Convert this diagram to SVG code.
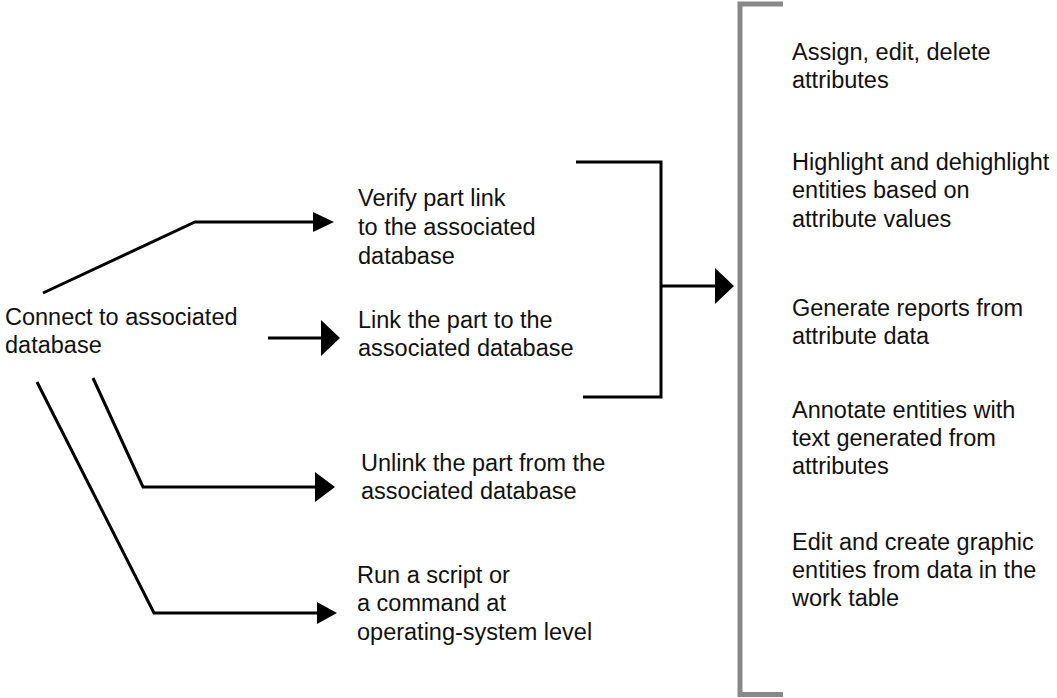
<svg xmlns="http://www.w3.org/2000/svg" width="1057" height="698" viewBox="0 0 1057 698">
  <style>
    text { font-family: "Liberation Sans", Arial, sans-serif; font-size: 23.5px; fill: #111; }
    .ln { fill: none; stroke: #000; stroke-width: 3; stroke-linejoin: miter; }
    .head { fill: #000; stroke: none; }
    .gray { fill: none; stroke: #888; stroke-width: 5; }
  </style>
  <rect width="1057" height="698" fill="#fff"/>

  <!-- source node -->
  <g id="connect">
    <text x="5" y="325">Connect to associated</text>
    <text x="5" y="353">database</text>
  </g>

  <!-- action nodes -->
  <g id="verify">
    <text x="358" y="206">Verify part link</text>
    <text x="358" y="235">to the associated</text>
    <text x="358" y="264">database</text>
  </g>
  <g id="link">
    <text x="358" y="328">Link the part to the</text>
    <text x="358" y="356">associated database</text>
  </g>
  <g id="unlink">
    <text x="361" y="471">Unlink the part from the</text>
    <text x="361" y="499">associated database</text>
  </g>
  <g id="run">
    <text x="357" y="583">Run a script or</text>
    <text x="357" y="611">a command at</text>
    <text x="357" y="640">operating-system level</text>
  </g>

  <!-- capability list -->
  <g id="capabilities">
    <path class="gray" d="M783,4 H740 V694.5 H783"/>
    <text x="792" y="60">Assign, edit, delete</text>
    <text x="792" y="88">attributes</text>
    <text x="792" y="170">Highlight and dehighlight</text>
    <text x="792" y="198">entities based on</text>
    <text x="792" y="227">attribute values</text>
    <text x="792" y="316">Generate reports from</text>
    <text x="792" y="344">attribute data</text>
    <text x="792" y="418">Annotate entities with</text>
    <text x="792" y="446">text generated from</text>
    <text x="792" y="474">attributes</text>
    <text x="792" y="550">Edit and create graphic</text>
    <text x="792" y="578">entities from data in the</text>
    <text x="792" y="606">work table</text>
  </g>

  <!-- connectors -->
  <g id="connectors">
    <path class="ln" d="M43,293 L195,222 H315"/>
    <polygon class="head" points="313,212 334,222 313,232"/>

    <path class="ln" d="M268,338 H324"/>
    <polygon class="head" points="321,320 340,338 321,356"/>

    <path class="ln" d="M93,378 L143,487 H317"/>
    <polygon class="head" points="315,472 335,487 315,502"/>

    <path class="ln" d="M37,382 L154,613 H319"/>
    <polygon class="head" points="317,602 337,613 317,624"/>

    <path class="ln" d="M576,162 H661 V397 H583"/>
    <path class="ln" d="M661,286 H717"/>
    <polygon class="head" points="715,268 734,286 715,304"/>
  </g>
</svg>
